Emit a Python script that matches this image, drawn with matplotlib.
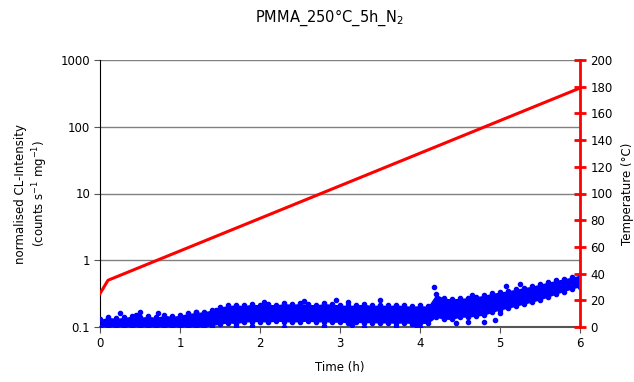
import numpy as np
import matplotlib.pyplot as plt

# --- data ---
# temperature programme (right axis)
temp_time = [0.0, 0.1, 6.0]
temp_c = [25, 35, 179]

# CL-intensity band (left axis, log), sampled every 0.1 h
band_time = [round(0.1 * i, 1) for i in range(61)]
band_upper = [0.13, 0.14, 0.135, 0.14, 0.145, 0.14, 0.145, 0.14, 0.15, 0.145,
              0.15, 0.16, 0.165, 0.17, 0.18, 0.20, 0.21, 0.215, 0.21, 0.22,
              0.215, 0.22, 0.215, 0.225, 0.22, 0.225, 0.22, 0.215, 0.225, 0.22,
              0.215, 0.21, 0.215, 0.22, 0.21, 0.215, 0.21, 0.215, 0.21, 0.205,
              0.21, 0.205, 0.31, 0.27, 0.265, 0.27, 0.275, 0.285, 0.30, 0.32,
              0.335, 0.35, 0.37, 0.39, 0.41, 0.44, 0.47, 0.50, 0.53, 0.56, 0.60]
band_lower = [0.1, 0.1, 0.1, 0.1, 0.1, 0.1, 0.1, 0.1, 0.1, 0.1,
              0.1, 0.1, 0.1, 0.1, 0.105, 0.11, 0.115, 0.112, 0.118, 0.12,
              0.12, 0.118, 0.122, 0.12, 0.118, 0.12, 0.122, 0.118, 0.12, 0.117,
              0.118, 0.115, 0.117, 0.115, 0.116, 0.114, 0.115, 0.113, 0.115, 0.112,
              0.113, 0.113, 0.14, 0.13, 0.13, 0.14, 0.14, 0.145, 0.15, 0.165,
              0.18, 0.19, 0.205, 0.22, 0.235, 0.255, 0.28, 0.31, 0.34, 0.37, 0.40]

# isolated points outside the dense band
out_time = [0.25, 0.45, 0.5, 0.72, 1.2, 1.45, 2.05, 2.55, 2.95, 3.1, 3.5, 4.18,
            4.65, 5.08, 5.25, 1.7, 1.9, 2.3, 2.8, 3.15, 3.3, 3.7, 3.95, 4.0,
            4.45, 4.6, 4.8, 4.94, 5.0]
out_val = [0.16, 0.15, 0.165, 0.16, 0.17, 0.18, 0.24, 0.245, 0.25, 0.235, 0.25, 0.40,
           0.30, 0.41, 0.44, 0.10, 0.103, 0.10, 0.102, 0.106, 0.10, 0.104, 0.108, 0.10,
           0.115, 0.12, 0.12, 0.127, 0.16]

blue = '#0000ff'
red = '#ff0000'

plt.rcParams['font.family'] = 'DejaVu Sans'
plt.rcParams['font.size'] = 8.5

fig = plt.figure(figsize=(6.34, 3.82), dpi=100)
ax = fig.add_axes([100 / 634, 1 - 327 / 382, 480 / 634, 267 / 382])

# blue CL data
ax.fill_between(band_time, band_lower, band_upper, color=blue, lw=0, zorder=3)
ax.plot(band_time, band_upper, 'o', color=blue, ms=3, zorder=3)
ax.plot(band_time, band_lower, 'o', color=blue, ms=3, zorder=3)
ax.plot(out_time, out_val, 'o', color=blue, ms=3, zorder=3)

ax.set_yscale('log')
ax.set_ylim(0.1, 1000)
ax.set_xlim(0, 6)
ax.set_xticks(range(7))
ax.set_yticks([0.1, 1, 10, 100, 1000])
ax.set_yticklabels(['0.1', '1', '10', '100', '1000'])
ax.minorticks_off()
ax.yaxis.grid(True, color='#808080', lw=1)
ax.set_axisbelow(True)
for s in ['top', 'right']:
    ax.spines[s].set_visible(False)
ax.spines['left'].set_color('black')
ax.spines['bottom'].set_color('#555555')
ax.spines['bottom'].set_linewidth(1.5)
ax.tick_params(axis='both', direction='out', length=4, color='#555555', pad=3)
ax.set_xlabel('Time (h)', labelpad=8)
ax.set_ylabel('normalised CL-Intensity\n(counts s$^{-1}$ mg$^{-1}$)', labelpad=8)

# temperature on the right axis
ax2 = ax.twinx()
ax2.plot(temp_time, temp_c, color=red, lw=2.2, zorder=4)
ax2.set_ylim(0, 200)
ax2.set_yticks(range(0, 201, 20))
for s in ['top', 'left', 'bottom']:
    ax2.spines[s].set_visible(False)
ax2.spines['right'].set_color(red)
ax2.spines['right'].set_linewidth(2)
ax2.tick_params(axis='y', direction='inout', length=9, width=2, color=red, pad=3)
ax2.set_ylabel('Temperature (°C)', labelpad=6)

fig.text(0.52, 0.953, 'PMMA_250°C_5h_N$_2$', ha='center', va='center', fontsize=10.5)

fig.savefig('out.png', dpi=100)
